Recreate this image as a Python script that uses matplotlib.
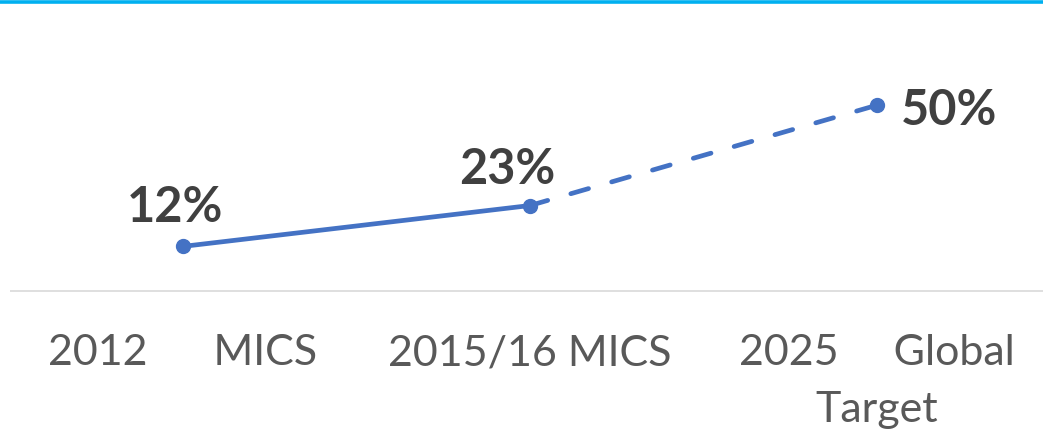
import matplotlib
matplotlib.use("Agg")
import matplotlib.pyplot as plt

categories = ["2012      MICS", "2015/16 MICS", "2025     Global\nTarget"]
values = [12, 23, 50]
labels = ["12%", "23%", "50%"]

W, H = 1043, 434
fig = plt.figure(figsize=(W / 100, H / 100), dpi=100)
ax = fig.add_axes([9.5 / W, (H - 291) / H, 1041 / W, 223 / H])
ax.set_xlim(-0.5, 2.5)
ax.set_ylim(0, 60)

blue = "#4472C4"
x = list(range(len(values)))
ax.plot(x[:2], values[:2], color=blue, lw=3.4, solid_capstyle="round", zorder=3)
ld, = ax.plot(x[1:], values[1:], color=blue, lw=3.4, dash_capstyle="round", zorder=3)
ld.set_dashes((3.9, 5.1))
ax.plot(x, values, "o", color=blue, ms=10, zorder=4)

font = "Lato"
offs = [(-6, 17.3, "center"), (-16.5, 15.8, "center"), (17, -14.4, "left")]
for xi, v, t, (dx, dy, ha) in zip(x, values, labels, offs):
    ax.annotate(t, (xi, v), xytext=(dx, dy), textcoords="offset points",
                ha=ha, va="baseline", fontsize=35, fontweight="bold", color="#404040",
                family=font)

ax.set_xticks(x)
ax.set_xticklabels(categories, fontsize=31, color="#595959", family=font,
                   linespacing=1.62, ma="center")
ax.tick_params(axis="x", length=0, pad=31)
ax.set_yticks([])
for s in ["left", "right", "top"]:
    ax.spines[s].set_visible(False)
ax.spines["bottom"].set_color("#D9D9D9")
ax.spines["bottom"].set_linewidth(1.2)
ax.spines["bottom"].set_capstyle("butt")

fig.add_artist(plt.Line2D([0, 1], [1 - 1.75 / H, 1 - 1.75 / H], color="#00B0F0",
                          lw=2.6, transform=fig.transFigure))

fig.savefig("out.png", dpi=100)
